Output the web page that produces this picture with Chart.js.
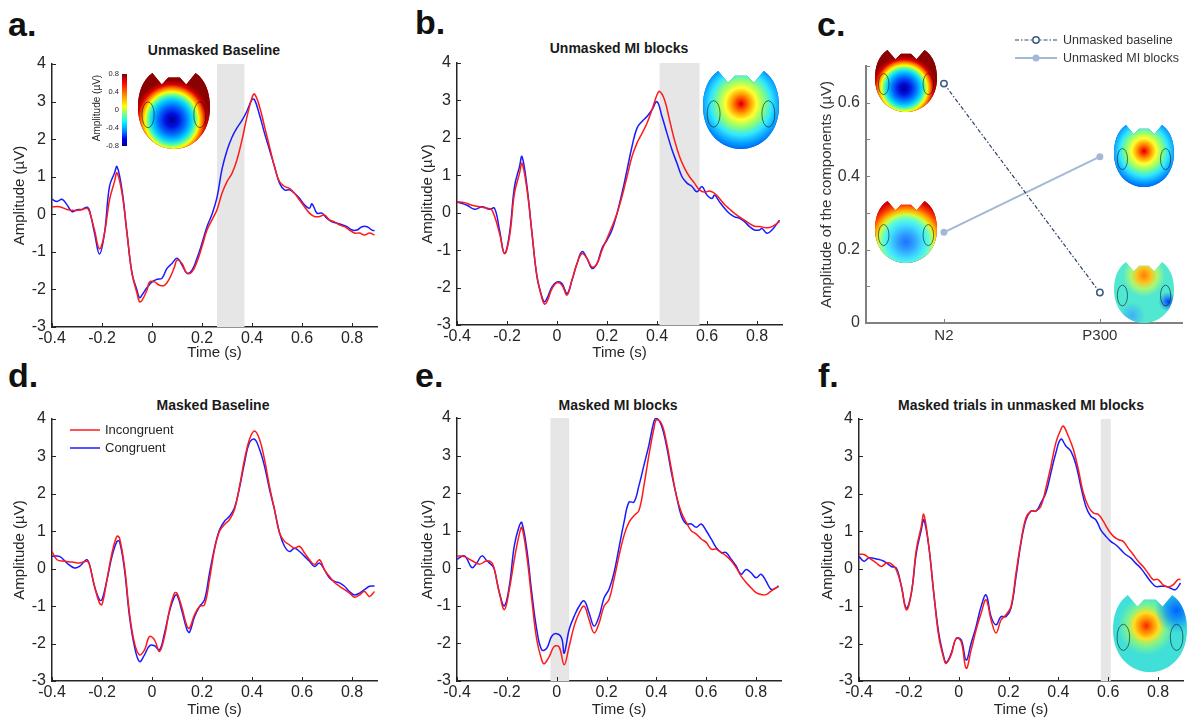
<!DOCTYPE html>
<html>
<head>
<meta charset="utf-8">
<script src="https://cdn.jsdelivr.net/npm/chart.js@4.4.1/dist/chart.umd.min.js"></script>
<style>
body{margin:0;background:#fff;width:1188px;height:720px;position:relative;overflow:hidden;font-family:'Liberation Sans',Arial,sans-serif;color:#262626}
canvas{position:absolute}
.letter{position:absolute;font-weight:bold;font-size:34px;line-height:34px;color:#111}
.title{position:absolute;font-weight:bold;font-size:14px;line-height:14px;transform:translateX(-50%);white-space:nowrap;color:#1a1a1a}
</style>
</head>
<body>
<div class="letter" style="left:8px;top:7px">a.</div>
<div class="letter" style="left:415px;top:5px">b.</div>
<div class="letter" style="left:817px;top:7px">c.</div>
<div class="letter" style="left:8px;top:358px">d.</div>
<div class="letter" style="left:415px;top:358px">e.</div>
<div class="letter" style="left:818px;top:358px">f.</div>

<div class="title" style="left:214px;top:43px">Unmasked Baseline</div>
<div class="title" style="left:619px;top:41px">Unmasked MI blocks</div>
<div class="title" style="left:213px;top:398px">Masked Baseline</div>
<div class="title" style="left:618px;top:398px">Masked MI blocks</div>
<div class="title" style="left:1021px;top:398px">Masked trials in unmasked MI blocks</div>

<canvas id="pa" width="396" height="362" style="left:0;top:0"></canvas>
<canvas id="pb" width="396" height="362" style="left:396px;top:0"></canvas>
<canvas id="pc" width="396" height="362" style="left:792px;top:0"></canvas>
<canvas id="pd" width="396" height="359" style="left:0;top:360px"></canvas>
<canvas id="pe" width="396" height="359" style="left:396px;top:360px"></canvas>
<canvas id="pf" width="396" height="359" style="left:792px;top:360px"></canvas>

<script>
// ---- data: [time (s), amplitude (µV)] ----
const aCong = [[-0.4,0.40],[-0.38,0.34],[-0.36,0.40],[-0.34,0.25],[-0.32,0.07],[-0.30,0.12],[-0.28,0.13],[-0.26,0.19],[-0.25,0.10],[-0.23,-0.50],[-0.21,-1.06],[-0.19,-0.50],[-0.17,0.74],[-0.15,1.10],[-0.14,1.27],[-0.12,0.65],[-0.10,-0.50],[-0.08,-1.57],[-0.06,-2.02],[-0.05,-2.22],[-0.04,-2.15],[-0.02,-1.95],[0,-1.80],[0.02,-1.73],[0.04,-1.70],[0.06,-1.44],[0.08,-1.31],[0.10,-1.17],[0.12,-1.35],[0.14,-1.57],[0.16,-1.49],[0.18,-1.17],[0.20,-0.77],[0.22,-0.33],[0.24,0.00],[0.26,0.45],[0.28,1.20],[0.30,1.70],[0.32,2.05],[0.34,2.30],[0.36,2.50],[0.38,2.75],[0.40,3.05],[0.41,3.05],[0.43,2.65],[0.45,2.16],[0.47,1.72],[0.49,1.27],[0.51,0.83],[0.53,0.65],[0.55,0.65],[0.57,0.56],[0.59,0.43],[0.61,0.25],[0.63,0.16],[0.64,0.28],[0.66,0.03],[0.68,0.03],[0.70,-0.11],[0.72,-0.20],[0.74,-0.24],[0.76,-0.28],[0.78,-0.33],[0.80,-0.42],[0.82,-0.42],[0.84,-0.33],[0.86,-0.33],[0.88,-0.42],[0.89,-0.44]];
const aInc = [[-0.4,0.20],[-0.37,0.20],[-0.34,0.13],[-0.31,0.10],[-0.28,0.12],[-0.26,0.16],[-0.25,0.07],[-0.23,-0.42],[-0.21,-0.92],[-0.19,-0.50],[-0.17,0.38],[-0.15,0.87],[-0.14,1.10],[-0.12,0.56],[-0.10,-0.50],[-0.08,-1.57],[-0.06,-2.10],[-0.05,-2.33],[-0.04,-2.29],[-0.02,-2.02],[-0.01,-1.80],[0.01,-1.80],[0.03,-1.89],[0.05,-1.89],[0.07,-1.71],[0.09,-1.40],[0.10,-1.22],[0.12,-1.31],[0.14,-1.57],[0.16,-1.53],[0.18,-1.26],[0.20,-0.86],[0.22,-0.42],[0.24,-0.15],[0.26,0.12],[0.28,0.56],[0.30,0.87],[0.32,1.09],[0.34,1.45],[0.36,1.98],[0.38,2.60],[0.40,3.10],[0.41,3.20],[0.43,2.87],[0.45,2.34],[0.47,1.80],[0.49,1.27],[0.51,0.87],[0.53,0.74],[0.55,0.69],[0.57,0.56],[0.59,0.38],[0.61,0.20],[0.63,0.03],[0.65,-0.06],[0.67,-0.06],[0.69,-0.02],[0.71,-0.15],[0.73,-0.20],[0.75,-0.28],[0.77,-0.33],[0.79,-0.42],[0.81,-0.50],[0.83,-0.50],[0.85,-0.55],[0.87,-0.50],[0.89,-0.55]];

const bCong = [[-0.4,0.29],[-0.36,0.20],[-0.33,0.09],[-0.30,0.16],[-0.27,0.09],[-0.25,0.12],[-0.23,-0.46],[-0.21,-1.09],[-0.19,-0.55],[-0.17,0.70],[-0.15,1.23],[-0.14,1.50],[-0.12,0.70],[-0.10,-0.55],[-0.08,-1.71],[-0.06,-2.25],[-0.05,-2.38],[-0.04,-2.29],[-0.02,-1.98],[0,-1.85],[0.02,-1.89],[0.04,-2.16],[0.06,-1.80],[0.08,-1.36],[0.10,-1.04],[0.12,-1.22],[0.14,-1.49],[0.16,-1.36],[0.18,-0.95],[0.20,-0.73],[0.22,-0.46],[0.24,-0.02],[0.26,0.52],[0.28,1.14],[0.30,1.77],[0.32,2.26],[0.34,2.44],[0.36,2.57],[0.38,2.75],[0.40,2.97],[0.42,2.57],[0.44,2.12],[0.46,1.68],[0.48,1.32],[0.50,0.96],[0.52,0.79],[0.54,0.70],[0.56,0.56],[0.58,0.70],[0.60,0.47],[0.62,0.38],[0.63,0.47],[0.65,0.29],[0.67,0.12],[0.69,-0.02],[0.71,-0.11],[0.73,-0.15],[0.75,-0.24],[0.77,-0.37],[0.79,-0.46],[0.81,-0.46],[0.82,-0.42],[0.84,-0.55],[0.86,-0.46],[0.89,-0.20]];
const bInc = [[-0.4,0.29],[-0.37,0.27],[-0.34,0.20],[-0.31,0.16],[-0.28,0.12],[-0.26,0.07],[-0.23,-0.55],[-0.21,-1.09],[-0.19,-0.64],[-0.17,0.52],[-0.15,1.05],[-0.14,1.32],[-0.12,0.61],[-0.10,-0.55],[-0.08,-1.71],[-0.06,-2.29],[-0.05,-2.44],[-0.04,-2.38],[-0.02,-2.03],[0,-1.87],[0.02,-1.94],[0.04,-2.20],[0.06,-1.80],[0.08,-1.36],[0.10,-1.09],[0.12,-1.22],[0.14,-1.45],[0.16,-1.36],[0.18,-1.00],[0.20,-0.69],[0.22,-0.37],[0.24,-0.02],[0.26,0.43],[0.28,0.96],[0.30,1.50],[0.32,1.86],[0.34,2.12],[0.36,2.39],[0.38,2.75],[0.40,3.15],[0.41,3.24],[0.43,3.02],[0.45,2.48],[0.47,1.94],[0.49,1.50],[0.51,1.19],[0.53,0.96],[0.55,0.79],[0.57,0.61],[0.59,0.55],[0.61,0.58],[0.63,0.52],[0.65,0.38],[0.67,0.22],[0.69,0.10],[0.71,-0.02],[0.73,-0.11],[0.75,-0.20],[0.77,-0.29],[0.79,-0.36],[0.81,-0.37],[0.84,-0.40],[0.86,-0.37],[0.89,-0.24]];

const cCategories = ['N2', 'P300'];
const cBaseline = [0.652, 0.083];
const cMIblocks = [0.247, 0.453];

const dInc = [[-0.4,0.46],[-0.38,0.24],[-0.35,0.20],[-0.32,0.18],[-0.29,0.15],[-0.26,0.20],[-0.25,0.11],[-0.23,-0.47],[-0.21,-0.92],[-0.20,-0.96],[-0.18,-0.29],[-0.16,0.42],[-0.14,0.87],[-0.13,0.82],[-0.11,0.06],[-0.09,-1.19],[-0.07,-1.99],[-0.05,-2.30],[-0.03,-2.17],[-0.01,-1.81],[0.01,-1.90],[0.03,-2.21],[0.05,-1.81],[0.07,-1.10],[0.09,-0.65],[0.10,-0.65],[0.12,-1.05],[0.14,-1.54],[0.15,-1.59],[0.17,-1.23],[0.19,-1.01],[0.21,-0.96],[0.23,-0.29],[0.25,0.51],[0.27,1.00],[0.29,1.18],[0.31,1.31],[0.33,1.58],[0.35,2.20],[0.37,2.92],[0.39,3.46],[0.41,3.68],[0.43,3.46],[0.45,2.92],[0.47,2.20],[0.49,1.58],[0.51,0.96],[0.53,0.73],[0.55,0.64],[0.57,0.55],[0.59,0.60],[0.61,0.42],[0.63,0.24],[0.65,0.11],[0.67,0.24],[0.69,-0.03],[0.71,-0.21],[0.73,-0.37],[0.75,-0.47],[0.77,-0.56],[0.79,-0.65],[0.81,-0.76],[0.83,-0.70],[0.85,-0.61],[0.87,-0.74],[0.89,-0.61]];
const dCong = [[-0.4,0.33],[-0.37,0.33],[-0.34,0.15],[-0.31,0.02],[-0.29,0.06],[-0.27,0.20],[-0.26,0.24],[-0.25,0.11],[-0.23,-0.47],[-0.21,-0.83],[-0.20,-0.83],[-0.18,-0.29],[-0.16,0.33],[-0.14,0.73],[-0.13,0.73],[-0.11,-0.03],[-0.09,-1.28],[-0.07,-2.08],[-0.05,-2.48],[-0.03,-2.30],[-0.01,-2.06],[0.01,-2.06],[0.03,-2.17],[0.05,-1.72],[0.07,-1.14],[0.09,-0.74],[0.10,-0.70],[0.12,-1.14],[0.14,-1.63],[0.15,-1.70],[0.17,-1.28],[0.19,-1.01],[0.21,-0.83],[0.23,-0.12],[0.25,0.55],[0.27,1.04],[0.29,1.27],[0.31,1.40],[0.33,1.63],[0.35,2.16],[0.37,2.83],[0.39,3.37],[0.41,3.46],[0.43,3.19],[0.45,2.74],[0.47,2.12],[0.49,1.58],[0.51,0.96],[0.53,0.60],[0.55,0.46],[0.57,0.55],[0.59,0.46],[0.61,0.33],[0.63,0.20],[0.65,0.06],[0.67,0.15],[0.69,-0.03],[0.71,-0.25],[0.73,-0.34],[0.75,-0.38],[0.77,-0.47],[0.79,-0.61],[0.81,-0.70],[0.83,-0.65],[0.85,-0.56],[0.87,-0.47],[0.89,-0.46]];

const eCong = [[-0.4,0.24],[-0.37,0.33],[-0.34,0.02],[-0.32,0.15],[-0.30,0.33],[-0.28,0.20],[-0.26,0.08],[-0.25,-0.03],[-0.23,-0.65],[-0.21,-1.00],[-0.19,-0.47],[-0.17,0.60],[-0.15,1.13],[-0.14,1.22],[-0.12,0.51],[-0.10,-0.65],[-0.08,-1.63],[-0.06,-2.17],[-0.04,-2.13],[-0.02,-1.81],[0,-1.74],[0.02,-1.86],[0.03,-2.26],[0.05,-1.63],[0.07,-1.28],[0.09,-1.01],[0.11,-0.87],[0.13,-1.19],[0.15,-1.54],[0.17,-1.28],[0.19,-0.79],[0.21,-0.56],[0.23,-0.12],[0.25,0.55],[0.27,1.22],[0.29,1.76],[0.31,1.76],[0.33,2.20],[0.35,2.74],[0.37,3.28],[0.39,3.90],[0.40,4.00],[0.42,3.81],[0.44,3.28],[0.46,2.56],[0.48,1.94],[0.50,1.40],[0.52,1.18],[0.54,1.18],[0.56,1.09],[0.58,1.18],[0.60,1.00],[0.62,0.78],[0.64,0.55],[0.66,0.42],[0.68,0.42],[0.70,0.24],[0.72,0.06],[0.74,-0.16],[0.76,-0.03],[0.78,-0.12],[0.80,-0.25],[0.82,-0.16],[0.84,-0.34],[0.86,-0.56],[0.88,-0.52],[0.89,-0.47]];
const eInc = [[-0.4,0.33],[-0.37,0.31],[-0.34,0.20],[-0.31,0.11],[-0.28,0.20],[-0.26,0.15],[-0.25,-0.03],[-0.23,-0.65],[-0.21,-1.10],[-0.19,-0.56],[-0.17,0.24],[-0.15,0.91],[-0.14,1.09],[-0.12,0.33],[-0.10,-0.83],[-0.08,-1.90],[-0.06,-2.44],[-0.05,-2.54],[-0.03,-2.35],[-0.01,-2.08],[0.01,-2.10],[0.03,-2.57],[0.05,-2.08],[0.07,-1.54],[0.09,-1.19],[0.11,-1.01],[0.13,-1.37],[0.15,-1.72],[0.17,-1.46],[0.19,-1.01],[0.21,-0.83],[0.23,-0.29],[0.25,0.33],[0.27,0.87],[0.29,1.22],[0.31,1.40],[0.33,1.54],[0.35,2.20],[0.37,3.01],[0.39,3.72],[0.40,3.95],[0.42,3.86],[0.44,3.37],[0.46,2.65],[0.48,1.94],[0.50,1.49],[0.52,1.22],[0.54,1.00],[0.56,0.91],[0.58,0.78],[0.60,0.69],[0.62,0.51],[0.64,0.51],[0.66,0.42],[0.68,0.33],[0.70,0.20],[0.72,0.02],[0.74,-0.21],[0.76,-0.38],[0.78,-0.52],[0.80,-0.65],[0.82,-0.70],[0.84,-0.70],[0.86,-0.61],[0.88,-0.52],[0.89,-0.49]];

const fCong = [[-0.4,0.33],[-0.38,0.20],[-0.36,0.29],[-0.33,0.26],[-0.30,0.20],[-0.27,0.06],[-0.25,0.02],[-0.23,-0.47],[-0.21,-1.05],[-0.19,-0.65],[-0.17,0.42],[-0.15,1.04],[-0.14,1.31],[-0.12,0.60],[-0.10,-0.65],[-0.08,-1.72],[-0.06,-2.35],[-0.05,-2.51],[-0.03,-2.26],[-0.01,-1.86],[0.01,-1.90],[0.03,-2.44],[0.05,-1.99],[0.07,-1.54],[0.09,-1.01],[0.11,-0.70],[0.13,-1.28],[0.15,-1.50],[0.17,-1.28],[0.19,-1.28],[0.21,-1.05],[0.23,-0.21],[0.25,0.69],[0.27,1.31],[0.29,1.54],[0.31,1.54],[0.33,1.76],[0.35,2.03],[0.37,2.56],[0.39,3.10],[0.41,3.46],[0.43,3.28],[0.45,3.14],[0.47,2.79],[0.49,2.20],[0.51,1.67],[0.53,1.40],[0.55,1.31],[0.57,1.04],[0.59,0.87],[0.61,0.73],[0.63,0.64],[0.65,0.51],[0.67,0.38],[0.69,0.29],[0.71,0.15],[0.73,0.02],[0.75,-0.16],[0.77,-0.34],[0.79,-0.47],[0.81,-0.47],[0.83,-0.47],[0.85,-0.52],[0.87,-0.56],[0.89,-0.38]];
const fInc = [[-0.4,0.38],[-0.38,0.38],[-0.36,0.29],[-0.33,0.15],[-0.31,0.06],[-0.29,0.15],[-0.27,0.13],[-0.25,-0.03],[-0.23,-0.47],[-0.21,-1.10],[-0.19,-0.65],[-0.17,0.51],[-0.15,1.13],[-0.14,1.45],[-0.12,0.60],[-0.10,-0.65],[-0.08,-1.81],[-0.06,-2.39],[-0.05,-2.53],[-0.03,-2.30],[-0.01,-1.86],[0.01,-1.95],[0.03,-2.66],[0.05,-2.17],[0.07,-1.63],[0.09,-1.19],[0.11,-0.83],[0.13,-1.37],[0.15,-1.72],[0.17,-1.37],[0.19,-1.23],[0.21,-1.01],[0.23,-0.12],[0.25,0.73],[0.27,1.36],[0.29,1.54],[0.31,1.54],[0.33,1.67],[0.35,2.16],[0.37,2.74],[0.39,3.37],[0.41,3.72],[0.42,3.81],[0.44,3.54],[0.46,3.19],[0.48,2.65],[0.50,2.03],[0.52,1.67],[0.54,1.49],[0.56,1.45],[0.58,1.27],[0.60,1.04],[0.62,0.87],[0.64,0.78],[0.66,0.73],[0.68,0.55],[0.70,0.38],[0.72,0.20],[0.74,0.06],[0.76,-0.12],[0.78,-0.29],[0.80,-0.29],[0.82,-0.43],[0.84,-0.49],[0.86,-0.43],[0.88,-0.29],[0.89,-0.29]];

// shaded time windows (s)
const aShade = [0.26, 0.37];
const bShade = [0.41, 0.57];
const eShade = [-0.025, 0.05];
const fShade = [0.57, 0.61];

// ticks
const xTicks = [-0.4, -0.2, 0, 0.2, 0.4, 0.6, 0.8];
const xTickLabels = ['-0.4', '-0.2', '0', '0.2', '0.4', '0.6', '0.8'];
const yTicks = [-3, -2, -1, 0, 1, 2, 3, 4];
const cYTicks = [0, 0.1, 0.2, 0.3, 0.4, 0.5, 0.6, 0.7];
const cYLabels = ['0', '', '0.2', '', '0.4', '', '0.6', ''];
const cbTicks = ['0.8', '0.4', '0', '-0.4', '-0.8'];

const FONT = "'Liberation Sans', Arial, sans-serif";
const RED = '#ff1a1a';
const BLUE = '#1a1aff';
const INK = '#262626';

const xy = arr => arr.map(p => ({x: p[0], y: p[1]}));

// ---- topographic maps (decoration) ----
const mapBaseN2 = {base: '#8b0000', blobs: [[0.47, 0.62, 0.6, [[0, '#00008f'], [0.15, '#0010e0'], [0.32, '#0070ff'], [0.45, '#00d0ff'], [0.55, '#60ffa0'], [0.62, '#ffff00'], [0.7, '#ff8000'], [0.78, '#e00000'], [0.88, '#8b0000'], [1, '#8b0000']]]]};
const mapMIP300 = {base: '#0050e0', blobs: [[0.5, 0.42, 0.62, [[0, '#c00000'], [0.08, '#ff3000'], [0.2, '#ffa000'], [0.33, '#ffff30'], [0.48, '#90ff70'], [0.65, '#30e8ff'], [0.85, '#0090ff'], [1, '#0050e0']]]]};
const mapMIN2 = {base: '#d00000', blobs: [[0.5, 0.66, 0.68, [[0, '#2070ff'], [0.2, '#30a0ff'], [0.4, '#40e0ff'], [0.55, '#60ffd0'], [0.65, '#d0ff40'], [0.75, '#ffb000'], [0.87, '#ff4000'], [1, '#d00000']]]]};
const mapBaseP300 = {base: '#50e8d0', blobs: [
  [0.5, 0.22, 0.35, [[0, '#ff8000'], [0.35, '#ffc020'], [0.65, 'rgba(200,255,80,0.7)'], [1, 'rgba(200,255,80,0)']]],
  [0.9, 0.65, 0.16, [[0, '#0040ff'], [1, 'rgba(0,100,255,0)']]],
  [0.3, 0.88, 0.22, [[0, 'rgba(60,170,255,0.9)'], [1, 'rgba(60,170,255,0)']]]]};
const mapF = {base: '#40e0d8', blobs: [
  [0.45, 0.4, 0.38, [[0, '#ff2000'], [0.2, '#ff8000'], [0.45, '#ffe020'], [0.7, 'rgba(160,255,100,0.6)'], [1, 'rgba(160,255,100,0)']]],
  [0.86, 0.2, 0.3, [[0, '#0060ff'], [0.5, 'rgba(0,120,255,0.6)'], [1, 'rgba(0,160,255,0)']]]]};

function headPath(ctx) {
  ctx.beginPath();
  ctx.moveTo(0.2, 0);
  ctx.lineTo(0.33, 0.15);
  ctx.lineTo(0.42, 0.06);
  ctx.lineTo(0.58, 0.06);
  ctx.lineTo(0.67, 0.15);
  ctx.lineTo(0.8, 0);
  ctx.bezierCurveTo(0.95, 0.1, 1, 0.28, 1, 0.45);
  ctx.bezierCurveTo(1, 0.8, 0.76, 1, 0.5, 1);
  ctx.bezierCurveTo(0.24, 1, 0, 0.8, 0, 0.45);
  ctx.bezierCurveTo(0, 0.28, 0.05, 0.1, 0.2, 0);
  ctx.closePath();
}

function drawHead(ctx, x, y, w, h, map) {
  ctx.save();
  ctx.translate(x, y);
  ctx.scale(w, h);
  headPath(ctx);
  ctx.clip();
  ctx.fillStyle = map.base;
  ctx.fillRect(0, 0, 1, 1);
  map.blobs.forEach(b => {
    const g = ctx.createRadialGradient(b[0], b[1], 0, b[0], b[1], b[2]);
    b[3].forEach(s => g.addColorStop(s[0], s[1]));
    ctx.fillStyle = g;
    ctx.fillRect(0, 0, 1, 1);
  });
  ctx.beginPath();
  ctx.ellipse(0.14, 0.55, 0.085, 0.17, 0, 0, 2 * Math.PI);
  ctx.moveTo(0.945, 0.55);
  ctx.ellipse(0.86, 0.55, 0.085, 0.17, 0, 0, 2 * Math.PI);
  ctx.restore();
  ctx.save();
  ctx.strokeStyle = 'rgba(20,20,20,0.75)';
  ctx.lineWidth = 0.8;
  ctx.stroke();
  ctx.restore();
}

// ---- plugins ----
function shade(range) {
  return {
    id: 'shade',
    beforeDatasetsDraw(chart) {
      const {ctx, chartArea: a, scales: {x}} = chart;
      const x0 = x.getPixelForValue(range[0]);
      const x1 = x.getPixelForValue(range[1]);
      ctx.save();
      ctx.fillStyle = '#e6e6e6';
      ctx.fillRect(x0, a.top, x1 - x0, a.bottom - a.top);
      ctx.restore();
    }
  };
}

function innerTicks(color) {
  return {
    id: 'innerTicks',
    afterDraw(chart) {
      const {ctx, chartArea: a, scales: {x, y}} = chart;
      ctx.save();
      ctx.strokeStyle = color;
      ctx.lineWidth = 1;
      ctx.beginPath();
      x.ticks.forEach(t => {
        const p = Math.round(x.getPixelForValue(t.value)) + 0.5;
        ctx.moveTo(p, a.bottom);
        ctx.lineTo(p, a.bottom - 4);
      });
      y.ticks.forEach(t => {
        const p = Math.round(y.getPixelForValue(t.value)) + 0.5;
        ctx.moveTo(a.left, p);
        ctx.lineTo(a.left + 4, p);
      });
      ctx.stroke();
      ctx.restore();
    }
  };
}

function heads(list) {
  return {
    id: 'heads',
    afterDraw(chart) {
      list.forEach(h => drawHead(chart.ctx, h[0], h[1], h[2], h[3], h[4]));
    }
  };
}

const colorbar = {
  id: 'colorbar',
  afterDraw(chart) {
    const ctx = chart.ctx;
    const top = 74, bot = 146, x = 122, w = 5;
    const g = ctx.createLinearGradient(0, top, 0, bot);
    [[0, '#800000'], [0.12, '#ff0000'], [0.3, '#ff9000'], [0.45, '#ffff00'], [0.55, '#80ff80'], [0.66, '#00ffff'], [0.8, '#0080ff'], [0.9, '#0000ff'], [1, '#00008f']]
      .forEach(s => g.addColorStop(s[0], s[1]));
    ctx.save();
    ctx.fillStyle = g;
    ctx.fillRect(x, top, w, bot - top);
    ctx.fillStyle = INK;
    ctx.font = '7.5px ' + FONT;
    ctx.textAlign = 'right';
    ctx.textBaseline = 'middle';
    cbTicks.forEach((t, i) => ctx.fillText(t, x - 3, top + i * (bot - top) / (cbTicks.length - 1)));
    ctx.translate(97, 108);
    ctx.rotate(-Math.PI / 2);
    ctx.textAlign = 'center';
    ctx.font = '10px ' + FONT;
    ctx.fillText('Amplitude (µV)', 0, 0);
    ctx.restore();
  }
};

function lineLegend(items) {
  return {
    id: 'lineLegend',
    afterDraw(chart) {
      const ctx = chart.ctx;
      ctx.save();
      ctx.font = '13px ' + FONT;
      ctx.textBaseline = 'middle';
      ctx.fillStyle = INK;
      items.forEach(it => {
        ctx.strokeStyle = it.color;
        ctx.lineWidth = 1.5;
        ctx.beginPath();
        ctx.moveTo(it.x, it.y);
        ctx.lineTo(it.x + 30, it.y);
        ctx.stroke();
        ctx.fillText(it.text, it.x + 35, it.y + 0.5);
      });
      ctx.restore();
    }
  };
}

const cLegend = {
  id: 'cLegend',
  afterDraw(chart) {
    const ctx = chart.ctx;
    const x0 = 223, x1 = 265, xm = 244;
    ctx.save();
    // baseline: dash-dot, open marker
    ctx.strokeStyle = '#2b4268';
    ctx.lineWidth = 1.2;
    ctx.setLineDash([4, 2, 1.5, 2]);
    ctx.beginPath(); ctx.moveTo(x0, 40); ctx.lineTo(x1, 40); ctx.stroke();
    ctx.setLineDash([]);
    ctx.fillStyle = '#fff';
    ctx.strokeStyle = '#3d5a80';
    ctx.lineWidth = 1.5;
    ctx.beginPath(); ctx.arc(xm, 40, 3.2, 0, 2 * Math.PI); ctx.fill(); ctx.stroke();
    // MI blocks: solid, filled marker
    ctx.strokeStyle = '#a3b8d6';
    ctx.lineWidth = 2;
    ctx.beginPath(); ctx.moveTo(x0, 58); ctx.lineTo(x1, 58); ctx.stroke();
    ctx.fillStyle = '#a3b8d6';
    ctx.beginPath(); ctx.arc(xm, 58, 3.5, 0, 2 * Math.PI); ctx.fill();
    ctx.fillStyle = '#333';
    ctx.font = '12.5px ' + FONT;
    ctx.textBaseline = 'middle';
    ctx.fillText('Unmasked baseline', 271, 40.5);
    ctx.fillText('Unmasked MI blocks', 271, 58.5);
    ctx.restore();
  }
};

// ---- ERP panel builder ----
function erpChart(id, inc, cong, geo, extra) {
  return new Chart(document.getElementById(id), {
    type: 'line',
    data: {
      datasets: [
        {label: 'Incongruent', data: xy(inc), borderColor: RED, borderWidth: 1.5, pointRadius: 0, tension: 0.4},
        {label: 'Congruent', data: xy(cong), borderColor: BLUE, borderWidth: 1.5, pointRadius: 0, tension: 0.4}
      ]
    },
    options: {
      responsive: false,
      animation: false,
      events: [],
      layout: {padding: {left: geo.padL, top: geo.padT, right: geo.padR, bottom: 0}},
      plugins: {legend: {display: false}, tooltip: {enabled: false}},
      scales: {
        x: {
          type: 'linear', min: -0.4, max: 0.9,
          afterBuildTicks: s => { s.ticks = xTicks.map(v => ({value: v})); },
          afterFit: s => { s.height = geo.xH; },
          grid: {display: false, drawTicks: false},
          border: {color: INK, width: 1.5},
          ticks: {font: {family: FONT, size: 16}, color: INK, padding: 2, autoSkip: false, maxRotation: 0,
                  callback: (v, i) => xTickLabels[i]},
          title: {display: true, text: 'Time (s)', font: {family: FONT, size: 15}, color: INK, padding: {top: 0, bottom: 0}}
        },
        y: {
          type: 'linear', min: -3, max: 4,
          afterBuildTicks: s => { s.ticks = yTicks.map(v => ({value: v})); },
          afterFit: s => { s.width = geo.yW; },
          grid: {display: false, drawTicks: false},
          border: {color: INK, width: 1.5},
          ticks: {font: {family: FONT, size: 16}, color: INK, padding: 6, callback: v => String(v)},
          title: {display: true, text: 'Amplitude (µV)', font: {family: FONT, size: 15}, color: INK, padding: {top: 0, bottom: 0}}
        }
      }
    },
    plugins: [innerTicks(INK)].concat(extra)
  });
}

erpChart('pa', aInc, aCong, {padL: 11, yW: 41, padT: 64, padR: 19, xH: 35},
  [shade(aShade), heads([[138, 73, 72, 76, mapBaseN2]]), colorbar]);
erpChart('pb', bInc, bCong, {padL: 23, yW: 38, padT: 63, padR: 10, xH: 37},
  [shade(bShade), heads([[703 - 396, 71, 76, 78, mapMIP300]])]);
erpChart('pd', dInc, dCong, {padL: 11, yW: 41, padT: 59, padR: 19, xH: 38},
  [lineLegend([{x: 70, y: 70, color: RED, text: 'Incongruent'}, {x: 70, y: 88, color: BLUE, text: 'Congruent'}])]);
erpChart('pe', eInc, eCong, {padL: 23, yW: 38, padT: 58, padR: 11, xH: 38},
  [shade(eShade)]);
erpChart('pf', fInc, fCong, {padL: 27, yW: 40, padT: 59, padR: 5, xH: 38},
  [shade(fShade), heads([[1113 - 792, 595 - 360, 74, 77, mapF]])]);

// ---- panel c: component amplitudes ----
new Chart(document.getElementById('pc'), {
  type: 'line',
  data: {
    datasets: [
      {label: 'Unmasked baseline', data: cBaseline.map((v, i) => ({x: i + 1, y: v})),
       borderColor: '#2b4268', borderWidth: 1.2, borderDash: [4, 2, 1.5, 2],
       pointRadius: 3.2, pointBackgroundColor: '#fff', pointBorderColor: '#3d5a80', pointBorderWidth: 1.5},
      {label: 'Unmasked MI blocks', data: cMIblocks.map((v, i) => ({x: i + 1, y: v})),
       borderColor: '#a3b8d6', borderWidth: 2,
       pointRadius: 3.5, pointBackgroundColor: '#a3b8d6', pointBorderColor: '#a3b8d6', pointBorderWidth: 0}
    ]
  },
  options: {
    responsive: false,
    animation: false,
    events: [],
    layout: {padding: {left: 26, top: 66, right: 1, bottom: 0}},
    plugins: {legend: {display: false}, tooltip: {enabled: false}},
    scales: {
      x: {
        type: 'linear', min: 0.5, max: 2.53,
        afterBuildTicks: s => { s.ticks = cCategories.map((c, i) => ({value: i + 1})); },
        afterFit: s => { s.height = 39; },
        grid: {display: false, drawTicks: false},
        border: {color: '#808080', width: 2},
        ticks: {font: {family: FONT, size: 15}, color: '#333', padding: 4, autoSkip: false, maxRotation: 0,
                callback: (v, i) => cCategories[i]}
      },
      y: {
        type: 'linear', min: 0, max: 0.7,
        afterBuildTicks: s => { s.ticks = cYTicks.map(v => ({value: v})); },
        afterFit: s => { s.width = 48; },
        grid: {display: false, drawTicks: false},
        border: {color: '#808080', width: 2},
        ticks: {font: {family: FONT, size: 16}, color: '#333', padding: 6, autoSkip: false, callback: (v, i) => cYLabels[i]},
        title: {display: true, text: 'Amplitude of the components (µV)', font: {family: FONT, size: 15}, color: '#333', padding: {top: 0, bottom: 0}}
      }
    }
  },
  plugins: [innerTicks('#808080'), cLegend, heads([
    [875 - 792, 50, 62, 62, mapBaseN2],
    [875 - 792, 201, 62, 62, mapMIN2],
    [1114 - 792, 125, 60, 62, mapMIP300],
    [1114 - 792, 262, 60, 61, mapBaseP300]
  ])]
});
</script>
</body>
</html>
